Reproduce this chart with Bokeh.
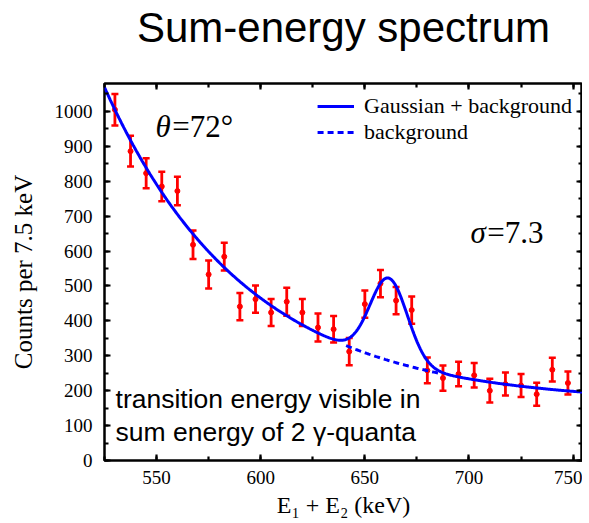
import numpy as np
from bokeh.plotting import figure
from bokeh.models import (ColumnDataSource, Whisker, TeeHead, Label, Legend,
                          LegendItem, LinearAxis, SingleIntervalTicker, Range1d)
from bokeh.embed import file_html
from bokeh.resources import INLINE

# ---- measured spectrum (7.5 keV bins) ----
energy_keV = [530.0, 537.5, 545.0, 552.5, 560.0, 567.5, 575.0, 582.5, 590.0, 597.5,
              605.0, 612.5, 620.0, 627.5, 635.0, 642.5, 650.0, 657.5, 665.0, 672.5,
              680.0, 687.5, 695.0, 702.5, 710.0, 717.5, 725.0, 732.5, 740.0, 747.5]
counts = [1005, 886, 823, 785, 772, 618, 533, 584, 441, 462,
          424, 455, 424, 381, 376, 312, 448, 507, 458, 431,
          258, 236, 248, 244, 200, 219, 215, 190, 260, 222]
count_err = [45, 44, 43, 42, 41, 41, 40, 40, 39, 39,
             39, 40, 39, 40, 38, 39, 39, 39, 39, 39,
             37, 36, 35, 35, 34, 33, 33, 33, 34, 33]

# ---- fit curve parameters ----
bg_offset = 165.0
bg_amp = 904.0
bg_decay_keV = 68.0
peak_amp = 236.0
peak_center_keV = 661.5
peak_sigma_keV = 9.0
fit_start_keV, fit_end_keV = 525.0, 755.0
bg_only_start_keV, bg_only_end_keV = 641.0, 686.0

# axis ticks
x_tick_step = 50
y_tick_step = 100

SERIF = "Liberation Serif"
SANS = "Liberation Sans"


def background(e):
    return bg_offset + bg_amp * np.exp(-(e - fit_start_keV) / bg_decay_keV)


def fit_total(e):
    return background(e) + peak_amp * np.exp(-0.5 * ((e - peak_center_keV) / peak_sigma_keV) ** 2)


p = figure(width=582, height=523, x_range=Range1d(525, 754.5), y_range=Range1d(0, 1080),
           output_backend="svg", toolbar_location=None, title=None,
           min_border_left=104, min_border_right=0, min_border_top=82, min_border_bottom=63)
p.grid.visible = False
p.outline_line_color = "black"
p.outline_line_width = 2.5
p.background_fill_color = "white"
p.border_fill_color = "white"

bottom_axis = p.below[0]
left_axis = p.left[0]

xt = SingleIntervalTicker(interval=x_tick_step, num_minor_ticks=2)
yt = SingleIntervalTicker(interval=y_tick_step, num_minor_ticks=2)
bottom_axis.ticker = xt
left_axis.ticker = yt

top_axis = LinearAxis(ticker=xt)
right_axis = LinearAxis(ticker=yt)
p.add_layout(top_axis, "above")
p.add_layout(right_axis, "right")

for ax in [bottom_axis, left_axis, top_axis, right_axis]:
    ax.axis_line_color = None
    ax.major_tick_in = 6
    ax.major_tick_out = 0
    ax.minor_tick_in = 4
    ax.minor_tick_out = 0
    ax.major_tick_line_width = 2.2
    ax.minor_tick_line_width = 2.2
    ax.major_tick_line_color = "black"
    ax.minor_tick_line_color = "black"
    ax.major_label_text_font = SERIF
    ax.major_label_text_font_size = "19px"
    ax.major_label_text_color = "black"

# top/right axes: ticks only
for ax in [top_axis, right_axis]:
    ax.major_label_text_font_size = "1px"
    ax.major_label_text_color = None
    ax.major_label_standoff = 0

bottom_axis.major_label_standoff = 10
bottom_axis.axis_label = "E\u2081 + E\u2082 (keV)"
bottom_axis.axis_label_text_font = SERIF
bottom_axis.axis_label_text_font_size = "24px"
bottom_axis.axis_label_text_font_style = "normal"
bottom_axis.axis_label_text_color = "black"
bottom_axis.axis_label_standoff = 5

left_axis.major_label_standoff = 12
left_axis.axis_label = "Counts per 7.5 keV"
left_axis.axis_label_text_font = SERIF
left_axis.axis_label_text_font_size = "25px"
left_axis.axis_label_text_font_style = "normal"
left_axis.axis_label_text_color = "black"
left_axis.axis_label_standoff = 15

# chart title carried by the top axis label
top_axis.axis_label = "Sum-energy spectrum"
top_axis.axis_label_text_font = SANS
top_axis.axis_label_text_font_size = "42px"
top_axis.axis_label_text_font_style = "normal"
top_axis.axis_label_text_color = "black"
top_axis.axis_label_standoff = 33

# ---- data with error bars ----
src = ColumnDataSource(dict(
    x=energy_keV, y=counts,
    upper=[c + e for c, e in zip(counts, count_err)],
    lower=[c - e for c, e in zip(counts, count_err)],
))
whisk = Whisker(base="x", upper="upper", lower="lower", source=src, dimension="height",
                line_color="#ff0000", line_width=2.8,
                upper_head=TeeHead(size=7, line_color="#ff0000", line_width=2.5),
                lower_head=TeeHead(size=7, line_color="#ff0000", line_width=2.5))
p.add_layout(whisk)
p.scatter("x", "y", source=src, size=5, color="#ff0000")

# ---- fit curves ----
e_full = np.linspace(fit_start_keV, fit_end_keV, 600)
e_bg = np.linspace(bg_only_start_keV, bg_only_end_keV, 100)
r_fit = p.line(e_full, fit_total(e_full), line_color="#0000ff", line_width=3)
r_bg = p.line(e_bg, background(e_bg), line_color="#0000ff", line_width=3, line_dash="6 4")

legend = Legend(items=[LegendItem(label="Gaussian + background", renderers=[r_fit]),
                       LegendItem(label="background", renderers=[r_bg])],
                location="top_right", border_line_color=None, background_fill_alpha=0,
                padding=0, margin=10, spacing=0, glyph_width=37, glyph_height=24,
                label_height=24, label_standoff=10, label_text_font=SERIF,
                label_text_font_size="22px", label_text_color="black")
p.add_layout(legend)

# ---- in-plot texts ----
p.add_layout(Label(x=549.5, y=957, text="\u03b8", text_baseline="alphabetic",
                   text_font=SERIF, text_font_style="italic", text_font_size="31px",
                   text_color="black"))
p.add_layout(Label(x=557.5, y=957, text="=72\u00b0", text_baseline="alphabetic",
                   text_font=SERIF, text_font_size="31px", text_color="black"))
p.add_layout(Label(x=700.7, y=652, text="\u03c3", text_baseline="alphabetic",
                   text_font=SERIF, text_font_style="italic", text_font_size="31px",
                   text_color="black"))
p.add_layout(Label(x=708.8, y=652, text="=7.3", text_baseline="alphabetic",
                   text_font=SERIF, text_font_size="31px", text_color="black"))
p.add_layout(Label(x=530.3, y=176, text="transition energy visible in",
                   text_baseline="alphabetic", text_font=SANS, text_font_size="26.5px",
                   text_color="black"))
p.add_layout(Label(x=530.3, y=81, text="sum energy of 2 \u03b3-quanta",
                   text_baseline="alphabetic", text_font=SANS, text_font_size="26.5px",
                   text_color="black"))

open("out.html", "w").write(file_html(p, INLINE))
